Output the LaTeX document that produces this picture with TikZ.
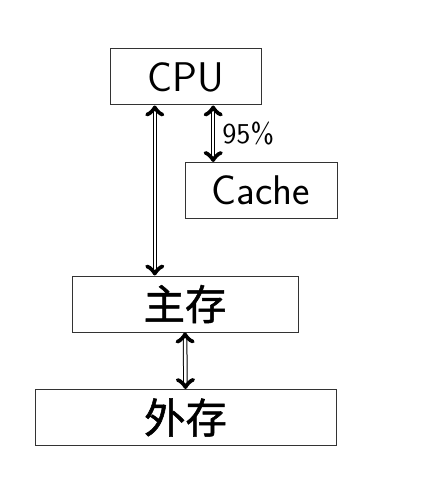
\documentclass[tikz,border=0pt]{standalone}
\usepackage{fontspec}
\usepackage{tikz}
\usetikzlibrary{calc}
\newfontfamily\cjk[FakeBold=1.2]{Noto Sans CJK SC}
\renewcommand{\familydefault}{\sfdefault}

\begin{document}
\begin{tikzpicture}[x=0.5pt, y=-0.5pt,
  unit/.style={draw=black!80, line width=0.5pt, minimum height=28pt, inner sep=0pt, font=\huge},
  link/.style={<->, double, double distance=1.3pt, line width=0.5pt}]
  \useasboundingbox (0,0) rectangle (428,496);
  \node[unit, minimum width=75.5pt] (cpu) at (185.5,77) {CPU};
  \node[unit, minimum width=76pt] (cache) at (261,190.5) {Cache};
  \node[unit, minimum width=113pt] (main) at (185,304) {\cjk 主存};
  \node[unit, minimum width=150.5pt] (ext) at (185.5,417.5) {\cjk 外存};
  \coordinate (cpuA) at ($(cpu.south west)!0.298!(cpu.south east)$);
  \coordinate (cpuB) at ($(cpu.south west)!0.682!(cpu.south east)$);
  \draw[link] (cpuA) -- (cpuA |- main.north);
  \draw[link] (cpuB) -- node[right, font=\Large, xshift=1pt] {95\%} (cpuB |- cache.north);
  \draw[link] (main.south) -- (ext.north);
\end{tikzpicture}
\end{document}
